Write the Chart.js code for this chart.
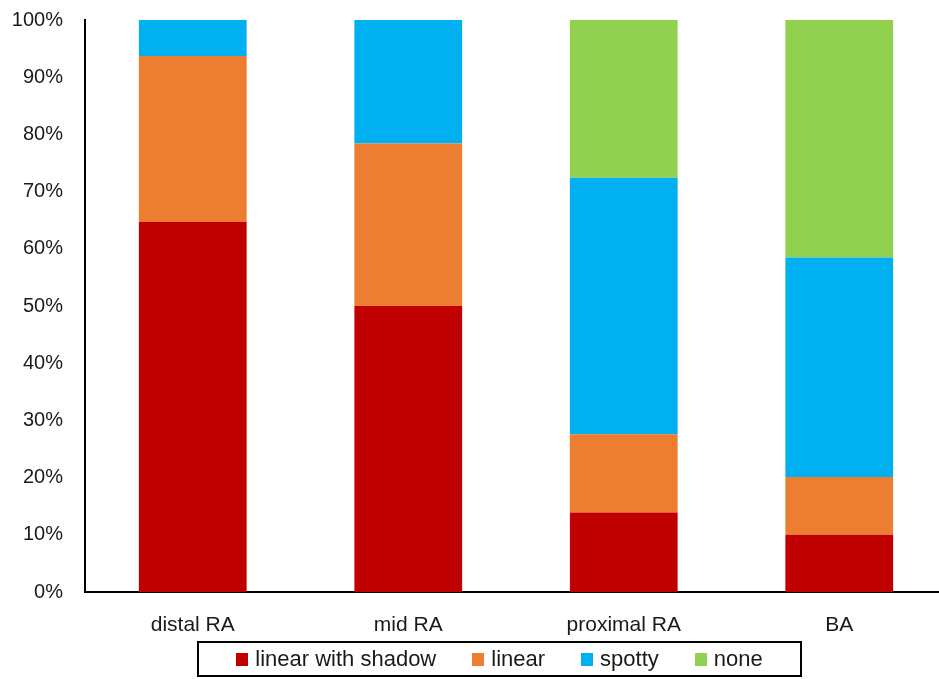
<!DOCTYPE html>
<html>
<head>
<meta charset="utf-8">
<script src="https://cdn.jsdelivr.net/npm/chart.js@4"></script>
<style>
  html, body { margin: 0; padding: 0; background: #fff; overflow: hidden; }
  #wrap { position: relative; width: 939px; height: 679px; overflow: hidden; }
  #chart { position: absolute; left: 0; top: 0; }
  #legend {
    position: absolute; left: 197px; top: 641px; width: 605px; height: 36px;
    box-sizing: border-box; border: 2px solid #000;
    display: flex; align-items: center; justify-content: center;
    font-family: "Liberation Sans", Arial, sans-serif; font-size: 22px; color: #1a1a1a;
  }
  #legend .item { display: flex; align-items: center; margin: 0 18px; }
  #legend .sw { width: 12px; height: 13px; margin-right: 7px; }
</style>
</head>
<body>
<div id="wrap">
  <canvas id="chart" width="960" height="679"></canvas>
  <div id="legend"></div>
</div>
<script>
const categories = ['distal RA', 'mid RA', 'proximal RA', 'BA'];
const seriesNames = ['linear with shadow', 'linear', 'spotty', 'none'];
const shadow = [64.7, 50.0, 13.9, 10.0];
const linear = [29.0, 28.4, 13.7, 10.1];
const spotty = [6.3, 21.6, 44.8, 38.4];
const none = [0, 0, 27.6, 41.5];
const yTicks = [0, 10, 20, 30, 40, 50, 60, 70, 80, 90, 100];

const colors = ['#C00000', '#ED7D31', '#00B0F0', '#92D050'];
const values = [shadow, linear, spotty, none];
const font = '"Liberation Sans", Arial, sans-serif';

const ctx = document.getElementById('chart');
new Chart(ctx, {
  type: 'bar',
  data: {
    labels: categories,
    datasets: seriesNames.map((name, i) => ({
      label: name,
      data: values[i],
      backgroundColor: colors[i],
      borderWidth: 0,
      barPercentage: 0.5,
      categoryPercentage: 1,
    })),
  },
  options: {
    responsive: false,
    animation: false,
    layout: { padding: { left: 0, right: 13, top: 20, bottom: 0 } },
    plugins: { legend: { display: false }, tooltip: { enabled: false } },
    scales: {
      x: {
        stacked: true,
        grid: { display: false, drawTicks: false },
        border: { color: '#000', width: 2 },
        ticks: { color: '#1a1a1a', font: { family: font, size: 21 }, padding: 21 },
        afterFit: (s) => { s.height = 87; },
      },
      y: {
        stacked: true,
        min: 0,
        max: 100,
        grid: { display: false, drawTicks: false },
        border: { color: '#000', width: 2 },
        afterBuildTicks: (s) => { s.ticks = yTicks.map((v) => ({ value: v })); },
        ticks: {
          color: '#1a1a1a',
          font: { family: font, size: 20 },
          padding: 22,
          callback: (v) => v + '%',
        },
        afterFit: (s) => {
          s.width = 85;
          s.paddingTop = 0;
          s.paddingBottom = 0;
        },
      },
    },
  },
});

const legend = document.getElementById('legend');
seriesNames.forEach((name, i) => {
  const item = document.createElement('span');
  item.className = 'item';
  const sw = document.createElement('span');
  sw.className = 'sw';
  sw.style.background = colors[i];
  item.appendChild(sw);
  item.appendChild(document.createTextNode(name));
  legend.appendChild(item);
});
</script>
</body>
</html>
